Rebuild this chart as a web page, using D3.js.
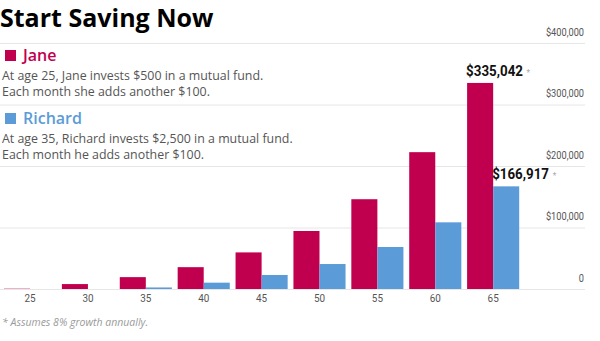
<!DOCTYPE html>
<html>
<head>
<meta charset="utf-8">
<script src="https://cdn.jsdelivr.net/npm/d3@7.9.0/dist/d3.min.js"></script>
<style>
  body { margin: 0; background: #fff; }
  svg { display: block; font-family: "Open Sans", sans-serif; }
</style>
</head>
<body>
<svg width="600" height="341"></svg>
<script>
// ages on the x axis
const ages = [25, 30, 35, 40, 45, 50, 55, 60, 65];
// balance for each saver at each age (null = not investing yet)
const jane = [500, 8000, 19300, 35500, 59500, 94300, 146000, 222500, 335042];
const richard = [null, null, 2500, 10300, 22800, 40600, 68300, 108400, 166917];
const yTicks = [0, 100000, 200000, 300000, 400000];

const janeColor = "#c0004f";
const richardColor = "#5b9bd8";
const narrow = "Roboto, 'Open Sans', sans-serif";

const svg = d3.select("svg");

// scales
const x = d3.scaleBand()
  .domain(ages)
  .range([1.1, 522.1])
  .paddingInner(0.1)
  .paddingOuter(0.05);

const xSub = d3.scaleBand()
  .domain(["jane", "richard"])
  .range([0, x.bandwidth()]);

const y = d3.scaleLinear()
  .domain([0, 400000])
  .range([289, 43]);

// gridlines run the full width and double as section rules
const yAxis = d3.axisRight(y)
  .tickValues(yTicks)
  .tickSize(585)
  .tickFormat(d => d === 0 ? "0" : d3.format("$,")(d));

const gAxis = svg.append("g").call(yAxis);
gAxis.select(".domain").remove();
gAxis.selectAll(".tick line")
  .attr("stroke", "#e6e6e6")
  .attr("stroke-width", 1);
gAxis.selectAll(".tick text")
  .attr("x", 0)
  .attr("y", -8)
  .attr("dy", 0)
  .attr("transform", "translate(584,0) scale(0.88,1)")
  .attr("text-anchor", "end")
  .attr("fill", "#555")
  .style("font-size", "10.5px")
  .style("font-family", narrow);

// bars
const groups = svg.append("g")
  .selectAll("g")
  .data(ages)
  .join("g")
  .attr("transform", d => `translate(${x(d)},0)`);

groups.append("rect")
  .attr("x", xSub("jane"))
  .attr("width", xSub.bandwidth())
  .attr("y", (d, i) => y(jane[i]))
  .attr("height", (d, i) => y(0) - y(jane[i]))
  .attr("fill", janeColor);

groups.filter((d, i) => richard[i] != null)
  .append("rect")
  .attr("x", xSub("richard"))
  .attr("width", xSub.bandwidth())
  .attr("y", d => y(richard[ages.indexOf(d)]))
  .attr("height", d => y(0) - y(richard[ages.indexOf(d)]))
  .attr("fill", richardColor);

// age labels
svg.append("g")
  .selectAll("text")
  .data(ages)
  .join("text")
  .attr("transform", d => `translate(${x(d) + x.bandwidth() / 2},302) scale(0.9,1)`)
  .attr("text-anchor", "middle")
  .attr("fill", "#555")
  .style("font-size", "11px")
  .style("font-family", narrow)
  .text(d => d);

// value labels on the last bars
const last = ages.length - 1;
const valueLabels = [
  { v: jane[last], key: "jane" },
  { v: richard[last], key: "richard" }
];
valueLabels.forEach(lab => {
  const t = svg.append("text")
    .attr("transform", `translate(${x(ages[last]) + xSub(lab.key) - 1},${y(lab.v) - 7}) scale(0.92,1)`)
    .style("font-size", "14.5px")
    .style("font-weight", "bold")
    .style("font-family", narrow)
    .attr("fill", "#111");
  t.append("tspan").text(d3.format("$,")(lab.v));
  t.append("tspan")
    .attr("dx", 4)
    .attr("fill", "#aaa")
    .style("font-size", "9px")
    .style("font-weight", "normal")
    .text("*");
});

// title
svg.append("text")
  .attr("x", 0)
  .attr("y", 27)
  .style("font-size", "25px")
  .style("font-weight", "bold")
  .attr("fill", "#000")
  .text("Start Saving Now");

// legend blocks
const legend = [
  { name: "Jane", color: janeColor, top: 49,
    lines: ["At age 25, Jane invests $500 in a mutual fund.",
            "Each month she adds another $100."] },
  { name: "Richard", color: richardColor, top: 112,
    lines: ["At age 35, Richard invests $2,500 in a mutual fund.",
            "Each month he adds another $100."] }
];
legend.forEach(l => {
  const g = svg.append("g").attr("transform", `translate(0,${l.top})`);
  g.append("rect")
    .attr("x", 5).attr("y", 1)
    .attr("width", 11).attr("height", 11)
    .attr("fill", l.color);
  g.append("text")
    .attr("x", 23).attr("y", 12)
    .attr("fill", l.color)
    .style("font-size", "16px")
    .style("font-weight", 600)
    .text(l.name);
  g.selectAll("text.desc")
    .data(l.lines)
    .join("text")
    .attr("class", "desc")
    .attr("x", 2)
    .attr("y", (d, i) => 31 + i * 16)
    .attr("fill", "#555")
    .style("font-size", "12.4px")
    .text(d => d);
});

// footnote
svg.append("text")
  .attr("x", 2)
  .attr("y", 326)
  .attr("fill", "#9a9a9a")
  .style("font-size", "10.5px")
  .style("font-style", "italic")
  .text("* Assumes 8% growth annually.");
</script>
</body>
</html>
